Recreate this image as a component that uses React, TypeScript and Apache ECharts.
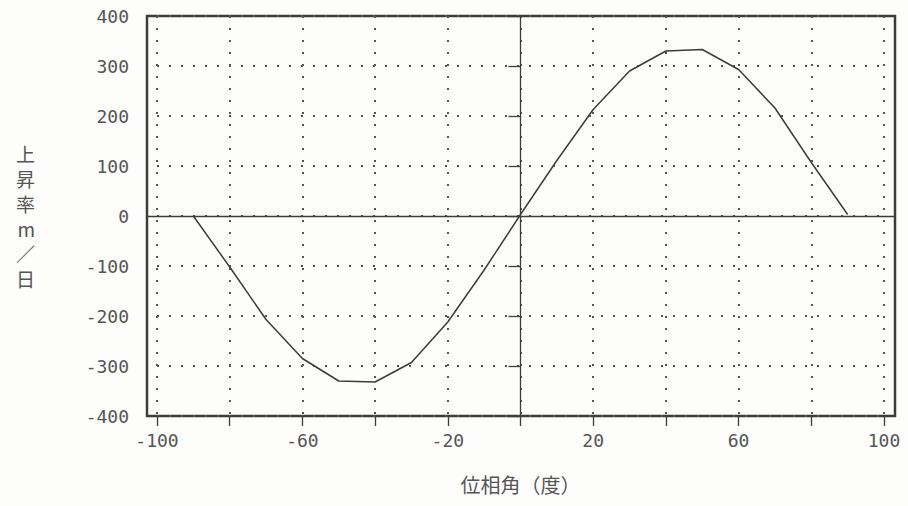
import React, { useEffect, useRef } from "react";
import * as echarts from "echarts";

const phaseAngles = [-90, -80, -70, -60, -50, -40, -30, -20, -10, 0, 10, 20, 30, 40, 50, 60, 70, 80, 90];
const riseRates = [0, -102, -207, -285, -330, -332, -293, -212, -108, 3, 111, 213, 290, 330, 333, 293, 216, 107, 3];
const xLabelValues = [-100, -60, -20, 20, 60, 100];
const xTitle = "位相角（度）";
const yTitleChars = ["上", "昇", "率", "m", "／", "日"];

const INK = "#3c3c3c";
const TEXT = "#555555";
const MONO = "'DejaVu Sans Mono', 'Liberation Mono', monospace";
const CJK = "'Noto Sans CJK JP', 'Noto Sans CJK SC', sans-serif";

export default function App() {
  const ref = useRef<HTMLDivElement>(null);
  useEffect(() => {
    if (!ref.current) return;
    const chart = echarts.init(ref.current, null, { renderer: "svg" });
    const frame = { left: 147, right: 13, top: 16, bottom: 90 };
    chart.setOption({
      animation: false,
      backgroundColor: "#fdfdfb",
      grid: [
        { ...frame, show: true, borderColor: INK, borderWidth: 2.5, backgroundColor: "transparent" },
        { left: 157, right: 24, top: 16, bottom: 90 },
      ],
      xAxis: [
        {
          gridIndex: 0,
          type: "value",
          min: 0,
          max: 1,
          axisLine: { show: true, onZero: true, lineStyle: { color: INK, width: 1.3 } },
          axisTick: { show: false },
          axisLabel: { show: false },
          splitLine: { show: false },
        },
        {
          gridIndex: 1,
          type: "value",
          min: -100,
          max: 100,
          interval: 20,
          name: xTitle,
          nameLocation: "middle",
          nameGap: 58,
          nameTextStyle: { fontFamily: CJK, fontSize: 20, color: TEXT },
          axisLine: { show: false, onZero: false },
          axisTick: { show: true, length: 10, lineStyle: { color: INK, width: 1.3 } },
          axisLabel: {
            margin: 15,
            fontFamily: MONO,
            fontSize: 18,
            color: TEXT,
            formatter: (v: number) => (xLabelValues.includes(v) ? String(v) : ""),
          },
          splitLine: { show: true, lineStyle: { color: "#555", width: 2, type: [2, 10] } },
        },
      ],
      yAxis: [
        {
          gridIndex: 0,
          type: "value",
          min: -400,
          max: 400,
          show: false,
        },
        {
          gridIndex: 1,
          type: "value",
          min: -400,
          max: 400,
          interval: 100,
          offset: 10,
          name: yTitleChars.join("\n"),
          nameLocation: "middle",
          nameRotate: 0,
          nameGap: 112,
          nameTextStyle: { fontFamily: CJK, fontSize: 19, lineHeight: 25, color: TEXT },
          axisLine: { show: false },
          axisTick: { show: true, length: 12, lineStyle: { color: INK, width: 1.3 } },
          axisLabel: { margin: 18, fontFamily: MONO, fontSize: 18, color: TEXT },
          splitLine: { show: true, lineStyle: { color: "#555", width: 2, type: [2, 10] } },
        },
      ],
      series: [
        {
          type: "line",
          xAxisIndex: 1,
          yAxisIndex: 1,
          data: phaseAngles.map((x, i) => [x, riseRates[i]]),
          symbol: "none",
          lineStyle: { color: INK, width: 1.5 },
          markLine: {
            silent: true,
            symbol: "none",
            label: { show: false },
            lineStyle: { color: INK, width: 1.3, type: "solid" },
            data: [{ xAxis: 0 }],
          },
        },
      ],
    });
    return () => chart.dispose();
  }, []);
  return <div ref={ref} style={{ width: 908, height: 506, position: "absolute", left: 0, top: 0 }} />;
}
